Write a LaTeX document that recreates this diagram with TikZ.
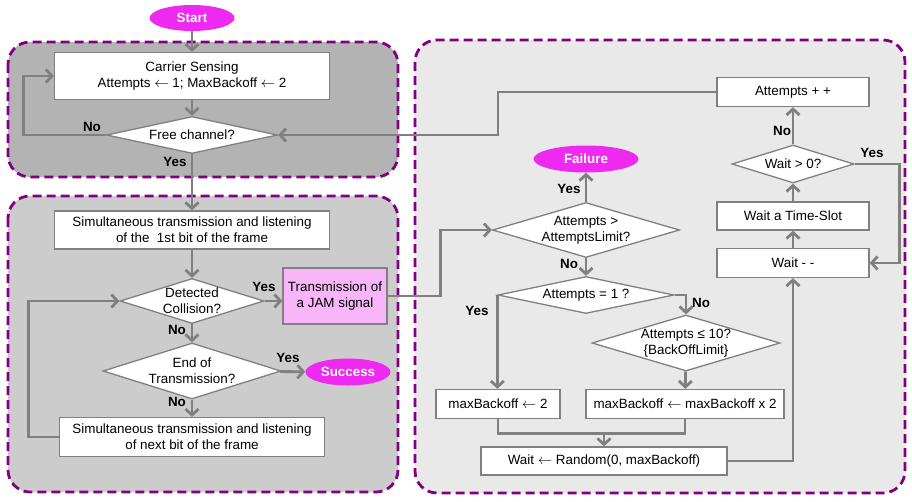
\documentclass[tikz,border=0pt]{standalone}
\usepackage{fontspec}
\setmainfont{Liberation Sans}
\usetikzlibrary{shapes.geometric,arrows.meta}
\definecolor{zonepurple}{RGB}{128,0,128}
\definecolor{zonedark}{RGB}{179,179,179}
\definecolor{zonemid}{RGB}{204,204,204}
\definecolor{zonelight}{RGB}{233,233,233}
\definecolor{flowgray}{RGB}{128,128,128}
\definecolor{termpink}{RGB}{238,42,240}
\definecolor{jampink}{RGB}{248,182,248}
\begin{document}
\begin{tikzpicture}[x=1pt,y=-1pt,
  font=\fontsize{13.4}{16}\selectfont,
  zone/.style={draw=zonepurple,line width=2.8pt,dash pattern=on 9pt off 5pt,rounded corners=22pt},
  stepbox/.style={draw=flowgray,line width=1.3pt,fill=white,align=center,inner sep=0pt},
  decision/.style={diamond,draw=flowgray,line width=1.3pt,fill=white,inner sep=0pt},
  terminal/.style={ellipse,fill=termpink,text=white,font=\fontsize{13.4}{15}\selectfont\bfseries,inner sep=0pt},
  flow/.style={draw=flowgray,line width=2.8pt,-{Straight Barb[length=6pt,width=13pt]}},
  link/.style={draw=flowgray,line width=2.8pt},
  ans/.style={font=\fontsize{13.4}{15}\selectfont\bfseries},
  every label/.style={align=center}]
\useasboundingbox (0,0) rectangle (912,501);
% zones
\draw[zone,fill=zonedark] (8,42) rectangle (398,177);
\draw[zone,fill=zonemid] (8,196) rectangle (398,492);
\draw[zone,fill=zonelight] (415,40) rectangle (905,493);
% sensing and transmission
\node[terminal,minimum width=85,minimum height=26] (start) at (192,18) {Start};
\node[stepbox,minimum width=275,minimum height=47] (sense) at (192,76) {Carrier Sensing\\Attempts $\leftarrow$ 1; MaxBackoff $\leftarrow$ 2};
\node[decision,minimum width=171,minimum height=37,label={center:Free channel?}] (free) at (192,135) {};
\node[stepbox,minimum width=275,minimum height=38] (firstbit) at (192,230) {Simultaneous transmission and listening\\of the~ 1st bit of the frame};
\node[decision,minimum width=144,minimum height=45,label={center:Detected\\Collision?}] (coll) at (192,301) {};
\node[stepbox,fill=jampink,minimum width=104,minimum height=56] (jam) at (335,296) {Transmission of\\a JAM signal};
\node[decision,minimum width=178,minimum height=56,label={center:End of\\Transmission?}] (endtx) at (192,371) {};
\node[terminal,minimum width=85,minimum height=27] (success) at (348,372) {Success};
\node[stepbox,minimum width=265,minimum height=39] (nextbit) at (192,437) {Simultaneous transmission and listening\\of next bit of the frame};
% backoff
\node[stepbox,minimum width=152,minimum height=29] (incr) at (793,92) {Attempts + +};
\node[terminal,minimum width=105,minimum height=27] (fail) at (586,159) {Failure};
\node[decision,minimum width=187,minimum height=55,label={center:Attempts >\\AttemptsLimit?}] (limit) at (586,230) {};
\node[decision,minimum width=176,minimum height=37,label={center:Attempts = 1 ?}] (isfirst) at (586,295) {};
\node[decision,minimum width=188,minimum height=56,label={center:Attempts ≤ 10?\\\{BackOffLimit\}}] (bolim) at (686,343) {};
\node[stepbox,minimum width=124,minimum height=29] (reset) at (498,404) {maxBackoff $\leftarrow$ 2};
\node[stepbox,minimum width=198,minimum height=29] (double) at (685,404) {maxBackoff $\leftarrow$ maxBackoff x 2};
\node[stepbox,minimum width=246,minimum height=28] (rand) at (604,461) {Wait $\leftarrow$ Random(0, maxBackoff)};
\node[stepbox,minimum width=152,minimum height=29] (dec) at (793,263) {Wait - -};
\node[stepbox,minimum width=152,minimum height=28] (slot) at (793,216) {Wait a Time-Slot};
\node[decision,minimum width=122,minimum height=38,label={center:Wait > 0?}] (wait) at (793,164) {};
% connectors
\draw[flow] (start) -- (sense);
\draw[flow] (sense) -- (free);
\draw[flow] (free.west) -- ++(-82,0) |- (sense.west);
\draw[flow] (free) -- (firstbit);
\draw[flow] (firstbit) -- (coll);
\draw[flow] (coll.east) -- (jam.west |- coll.east);
\draw[flow] (coll) -- (endtx);
\draw[flow] (endtx) -- (success);
\draw[flow] (endtx) -- (nextbit);
\draw[flow] (nextbit.west) -- ++(-30,0) |- (coll.west);
\draw[flow] (jam.east) -- ++(53,0) |- (limit.west);
\draw[flow] (incr.west) -- (498,92) |- (free.east);
\draw[flow] (limit) -- (fail);
\draw[flow] (limit) -- (isfirst);
\draw[flow] (isfirst.west) -- (isfirst.west |- reset.north);
\draw[flow] (isfirst.east) -| (bolim.north);
\draw[flow] (bolim) -- (double);
\draw[link] (reset.south) -- ++(0,14) coordinate (joinL) -| (double.south);
\draw[flow] (joinL -| rand.north) -- (rand.north);
\draw[flow] (rand.east) -| (dec.south);
\draw[flow] (dec) -- (slot);
\draw[flow] (slot) -- (wait);
\draw[flow] (wait) -- (incr);
\draw[flow] (wait.east) -- ++(45,0) |- (dec.east);
% answers
\node[ans] (noFree) at (92,127) {No};
\node[ans] (yesFree) at (175,162) {Yes};
\node[ans] (yesColl) at (264,287) {Yes};
\node[ans] (noColl) at (177,330) {No};
\node[ans] (yesEnd) at (288,358) {Yes};
\node[ans] (noEnd) at (177,402) {No};
\node[ans] (yesLim) at (569,189) {Yes};
\node[ans] (noLim) at (569,264) {No};
\node[ans] (yesFirst) at (477,311) {Yes};
\node[ans] (noFirst) at (701,303) {No};
\node[ans] (noWait) at (782,131) {No};
\node[ans] (yesWait) at (872,153) {Yes};
\end{tikzpicture}
\end{document}
